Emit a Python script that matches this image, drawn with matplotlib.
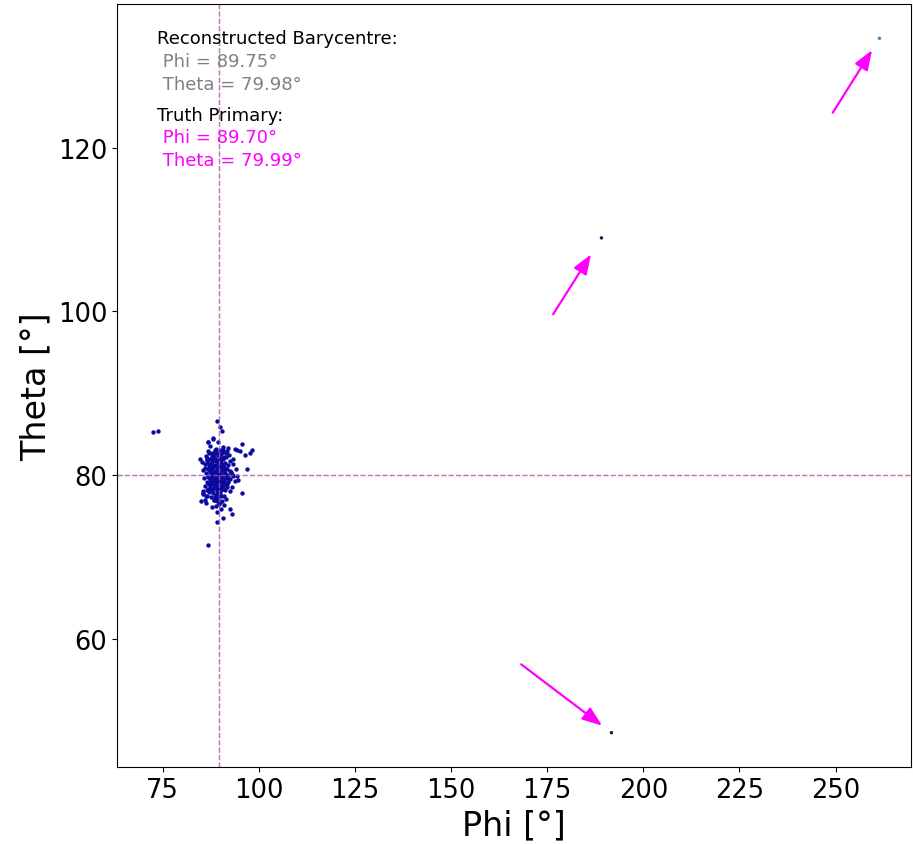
import numpy as np
import matplotlib.pyplot as plt

# Reconstructed hit directions (Phi, Theta in degrees)
cluster_phi = [
    87.4, 88.9, 90.6, 91.8, 86.9, 89.5, 88.2, 86.8,
    86.2, 87.1, 87.9, 88.6, 89.3, 90.1, 90.9, 91.5, 92.3, 93.2, 86.6, 88.3,
    85.9, 86.5, 87.2, 87.7, 88.4, 88.9, 89.5, 90.2, 90.7, 91.3, 91.9, 92.5, 93.4, 86.9, 88.0, 89.8, 90.5, 87.5,
    85.6, 86.3, 86.8, 87.4, 87.9, 88.5, 89.0, 89.6, 90.0, 90.6, 91.2, 91.7, 92.4, 93.0, 86.0, 88.2, 89.3, 90.9, 92.1, 94.0,
    85.8, 86.4, 86.9, 87.5, 88.1, 88.6, 89.1, 89.7, 90.2, 90.8, 91.4, 91.9, 92.6, 93.3, 87.2, 89.4, 90.5, 88.3, 91.1, 94.6,
    86.1, 86.7, 87.3, 87.8, 88.4, 89.0, 89.5, 90.1, 90.6, 91.2, 91.8, 92.4, 87.0, 88.8, 89.9, 90.9, 93.1, 85.5, 86.4, 89.3,
    87.6, 88.3, 89.6, 90.4, 91.5, 88.9, 90.1, 87.9, 91.0, 89.2, 86.2, 85.4, 86.0,
    72.6, 73.9, 89.2, 89.9, 90.4, 95.6, 98.3, 97.7, 96.4, 95.1, 94.4, 96.9, 95.7, 92.5, 93.0,
    90.6, 89.1, 86.8, 84.7, 85.2, 85.4, 86.2, 85.0, 86.4, 86.9, 88.2, 92.0, 90.7, 93.8, 94.3, 93.9,
    # dense core
    87.0, 87.6, 88.1, 88.7, 89.2, 89.8, 90.3, 90.8, 91.3, 87.3, 87.8, 88.4, 88.9, 89.4, 89.9, 90.4, 91.0,
    86.7, 87.2, 87.7, 88.2, 88.8, 89.3, 89.8, 90.3, 90.9, 91.4, 87.1, 87.6, 88.2, 88.7, 89.2, 89.7, 90.2,
    90.7, 87.4, 88.0, 88.5, 89.1, 89.6, 90.1, 90.6, 86.6, 87.2, 87.9, 88.6, 89.3, 90.0, 90.7, 91.5,
    88.0, 88.7, 89.4, 90.1, 88.4, 89.1, 89.8, 87.7, 88.5, 89.2, 90.0, 90.8, 86.9, 91.6, 92.0, 92.7,
]
cluster_theta = [
    83.6, 83.2, 83.4, 82.9, 83.0, 84.0, 84.4, 84.1,
    82.3, 82.7, 82.1, 82.8, 82.4, 82.6, 82.2, 82.7, 82.4, 82.0, 81.9, 82.5,
    81.4, 81.8, 81.2, 81.6, 81.1, 81.7, 81.3, 81.8, 81.0, 81.5, 81.2, 81.7, 81.3, 81.5, 81.9, 81.6, 81.4, 80.9,
    80.6, 80.2, 80.8, 80.4, 80.7, 80.1, 80.5, 80.8, 80.3, 80.6, 80.2, 80.8, 80.5, 80.1, 80.9, 80.3, 80.0, 80.9, 80.0, 80.7,
    79.6, 79.2, 79.8, 79.4, 79.9, 79.3, 79.7, 79.1, 79.6, 79.3, 79.8, 79.2, 79.5, 79.9, 79.0, 79.5, 79.9, 79.6, 79.0, 79.4,
    78.7, 78.3, 78.8, 78.2, 78.6, 78.1, 78.9, 78.4, 78.7, 78.2, 78.6, 78.1, 77.9, 77.6, 77.8, 77.5, 78.5, 78.0, 77.4, 77.2,
    77.3, 76.9, 76.5, 76.8, 77.1, 76.2, 75.9, 76.1, 76.3, 75.5, 76.6, 77.7, 76.9,
    85.3, 85.35, 86.6, 85.9, 85.4, 83.8, 83.1, 82.7, 82.4, 82.9, 83.1, 80.7, 77.8, 75.8, 75.2,
    74.8, 74.2, 71.5, 82.0, 81.6, 77.8, 77.4, 76.8, 78.2, 84.1, 84.5, 83.3, 83.1, 83.2, 79.9, 79.3,
    # dense core
    81.05, 81.35, 80.95, 81.25, 80.85, 81.15, 80.75, 81.05, 80.85, 80.45, 80.15, 80.55, 80.25, 80.65, 80.35, 80.05, 80.45,
    79.85, 79.55, 79.75, 79.45, 79.85, 79.35, 79.25, 79.75, 79.45, 79.65, 78.95, 79.15, 78.85, 79.05, 78.75, 79.15, 78.95,
    78.85, 78.45, 78.25, 78.55, 78.35, 78.55, 78.15, 78.35, 82.05, 81.95, 82.35, 82.05, 81.85, 82.15, 81.95, 82.25,
    77.75, 77.35, 77.85, 77.45, 76.95, 76.85, 76.65, 82.75, 83.05, 82.65, 83.05, 82.85, 79.05, 78.85, 79.65, 80.35,
]

# isolated hits far from the shower core (marked with arrows)
far_phi = [189.1, 191.7, 261.4]
far_theta = [109.0, 48.5, 133.4]
far_colors = ['#161650', '#161650', '#3d85c6']
arrow_offsets = [(-34.8, -55.0), (-65.0, 49.2), (-33.6, -53.5)]
arrow_shrink = [14, 8.4, 10]

reco_phi, reco_theta = 89.75, 79.98
true_phi, true_theta = 89.70, 79.99

fig = plt.figure(figsize=(9.13, 8.45), dpi=100)
ax = fig.add_axes([0.1281, 0.0911, 0.8697, 0.9030])

ax.scatter(cluster_phi, cluster_theta, s=10, color='#0a0aa0', linewidths=0)
ax.scatter(far_phi, far_theta, s=6, c=far_colors, linewidths=0)

for px, py, off, shr in zip(far_phi, far_theta, arrow_offsets, arrow_shrink):
    ax.annotate('', xy=(px, py), xytext=off, textcoords='offset points',
                arrowprops=dict(arrowstyle='-|>,head_length=0.75,head_width=0.28',
                                color='#ff00ff', lw=1.6, shrinkA=0, shrinkB=shr,
                                mutation_scale=16))

# barycentre / truth guide lines
ax.axvline(true_phi, color='#ff00ff', ls='--', lw=1, alpha=0.45)
ax.axhline(true_theta, color='#ff00ff', ls='--', lw=1, alpha=0.45)
ax.axvline(reco_phi, color='gray', ls='--', lw=1, alpha=0.6)
ax.axhline(reco_theta, color='gray', ls='--', lw=1, alpha=0.6)

ax.set_xlim(63.1, 269.6)
ax.set_ylim(44.3, 137.6)

def yfrac(ypix):
    return (768 - ypix) / 763

tx = 0.0504
ax.text(tx, yfrac(44), 'Reconstructed Barycentre:', transform=ax.transAxes, fontsize=13, color='black')
ax.text(tx, yfrac(66.7), f' Phi = {reco_phi:.2f}°', transform=ax.transAxes, fontsize=13, color='gray')
ax.text(tx, yfrac(90), f' Theta = {reco_theta:.2f}°', transform=ax.transAxes, fontsize=13, color='gray')
ax.text(tx, yfrac(120.7), 'Truth Primary:', transform=ax.transAxes, fontsize=13, color='black')
ax.text(tx, yfrac(143.3), f' Phi = {true_phi:.2f}°', transform=ax.transAxes, fontsize=13, color='#ff00ff')
ax.text(tx, yfrac(166), f' Theta = {true_theta:.2f}°', transform=ax.transAxes, fontsize=13, color='#ff00ff')

ax.set_xlabel('Phi [°]', fontsize=24)
ax.set_ylabel('Theta [°]', fontsize=24)
ax.tick_params(labelsize=18.5)

fig.savefig('out.png', dpi=100)
